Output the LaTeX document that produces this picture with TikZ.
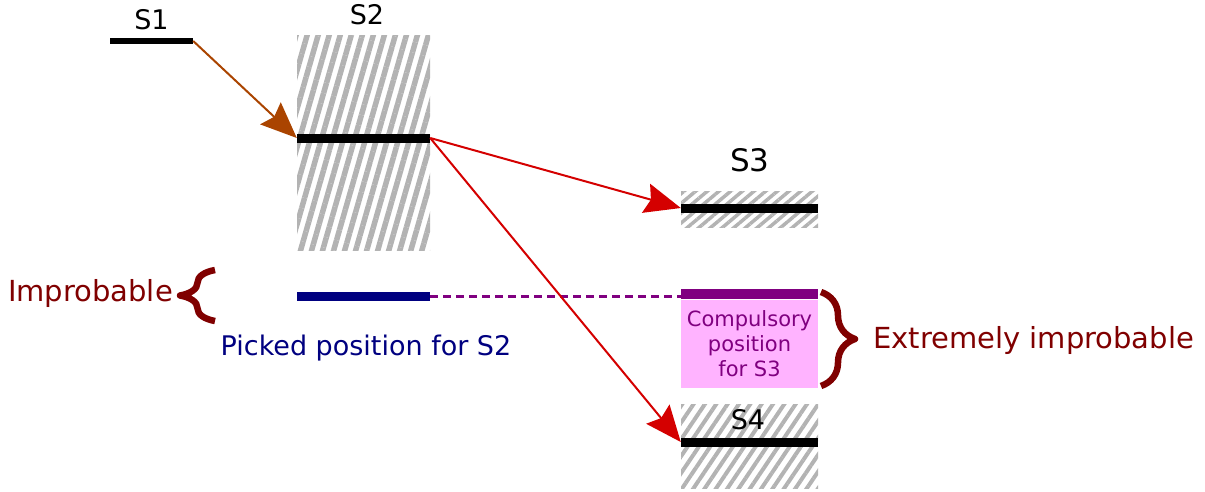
\documentclass[tikz,border=0pt]{standalone}
\usepackage{fontspec}
\setmainfont{DejaVu Sans}
\usetikzlibrary{arrows.meta,patterns.meta,decorations.pathreplacing,positioning}
\definecolor{hatchgray}{HTML}{B3B3B3}
\definecolor{arroworange}{HTML}{AA4400}
\definecolor{arrowred}{HTML}{D40000}
\definecolor{bracered}{HTML}{800000}
\definecolor{pickblue}{HTML}{000080}
\definecolor{comppurple}{HTML}{800080}
\definecolor{comppink}{HTML}{FFB3FF}
\tikzset{
	level/.style={fill=black, inner sep=0pt, minimum height=9pt},
	lbl/.style={inner sep=0pt, font=\fontsize{27}{32}\selectfont},
	jump/.style={-{Stealth[length=36pt, width=30pt, inset=5pt]}, line width=2pt},
	bigbrace/.style={decorate, line width=6.5pt, bracered},
}
\begin{document}
\begin{tikzpicture}[x=1pt, y=-1pt, line join=round]
	\useasboundingbox (0,0) rectangle (1205,491);
	% hatched regions
	\fill[pattern={Lines[angle=74, distance=10.6pt, line width=5.5pt]}, pattern color=hatchgray] (297,35) rectangle (430,250);
	\fill[pattern={Lines[angle=40, distance=7.5pt, line width=3.5pt]}, pattern color=hatchgray] (681,191) rectangle (818,227);
	\fill[pattern={Lines[angle=56, distance=9.4pt, line width=4pt]}, pattern color=hatchgray] (681,404) rectangle (818,488);
	% levels
	\node[level, minimum width=83pt, minimum height=6pt] (s1) at (151.5,41) {};
	\node[level, minimum width=133pt] (s2) at (363.5,138) {};
	\node[level, minimum width=137pt] (s3) at (749.5,208) {};
	\node[level, minimum width=137pt] (s4) at (749.5,442) {};
	\node[lbl] (s1lbl) at (151.5,20) {S1};
	\node[lbl] (s2lbl) at (367,15) {S2};
	\node[lbl, font=\fontsize{31}{36}\selectfont] (s3lbl) at (750,160) {S3};
	\node[lbl] (s4lbl) at (748,420) {S4};
	% picked and compulsory positions
	\node[level, fill=pickblue, minimum width=133pt] (pick) at (363.5,296) {};
	\node[lbl, pickblue] (picklbl) at (366,348) {Picked position for S2};
	\node[level, fill=comppurple, minimum width=137pt, minimum height=10pt] (s3pos) at (749.5,294) {};
	\node[fill=comppink, inner sep=0pt, minimum width=137pt, minimum height=88pt, align=center,
		text=comppurple, font=\fontsize{21}{25}\selectfont] (comp) at (749.5,344) {Compulsory\\position\\for S3};
	\draw[comppurple, line width=3pt, dash pattern=on 8pt off 5pt] (pick.east) -- (pick.east -| s3pos.west);
	% transitions
	\draw[jump, arroworange] (s1.east) -- (s2.west);
	\draw[jump, arrowred] (s2.east) -- (s3.west);
	\draw[jump, arrowred] (s2.east) -- (s4.west);
	% braces
	\draw[bigbrace, decoration={brace, amplitude=35pt}] (215,321) -- (215,270);
	\draw[bigbrace, decoration={brace, amplitude=34pt}] (821,292) -- (821,386);
	\node[lbl, bracered, font=\fontsize{29}{34}\selectfont, anchor=east] (improb) at (173,293) {Improbable};
	\node[lbl, bracered, font=\fontsize{29}{34}\selectfont, anchor=west] (extimprob) at (873,340) {Extremely improbable};
\end{tikzpicture}
\end{document}
